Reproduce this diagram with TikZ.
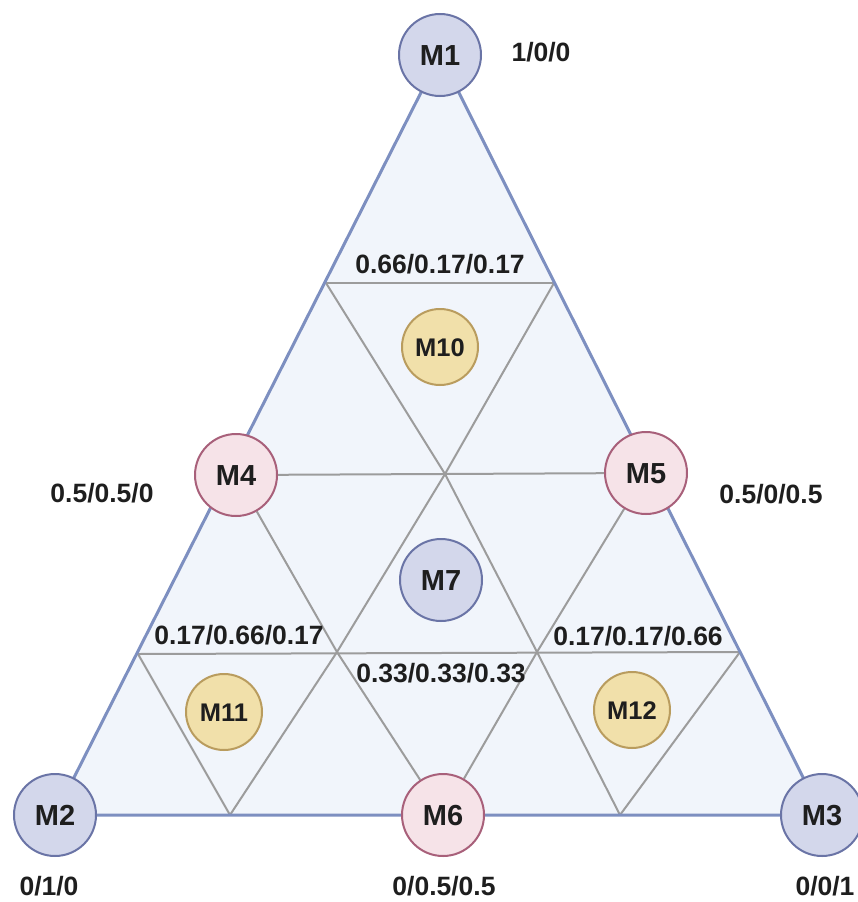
\documentclass[tikz,border=0pt]{standalone}
\usepackage{fontspec}
\setmainfont{Liberation Sans}
\usetikzlibrary{backgrounds}
\definecolor{bluefill}{HTML}{D3D7EB}
\definecolor{blueline}{HTML}{6A74A6}
\definecolor{pinkfill}{HTML}{F6E3E8}
\definecolor{pinkline}{HTML}{A8607A}
\definecolor{yelfill}{HTML}{F1E0AA}
\definecolor{yelline}{HTML}{B99C5E}
\definecolor{trifill}{HTML}{F1F5FB}
\definecolor{triedge}{HTML}{7D8FC0}
\definecolor{gridline}{HTML}{9C9C9C}
\definecolor{txt}{HTML}{1E1E1E}
\begin{document}
\begin{tikzpicture}[x=1pt,y=-1pt,
  bignode/.style={circle, draw, line width=2pt, minimum size=82pt, inner sep=0pt,
    text height=20.5pt, text depth=0pt, text=txt, font=\fontsize{29}{30}\selectfont\bfseries},
  smallnode/.style={circle, draw, line width=2pt, minimum size=76pt, inner sep=0pt,
    text height=18pt, text depth=0pt, text=txt, font=\fontsize{25.5}{27}\selectfont\bfseries},
  bluec/.style={fill=bluefill, draw=blueline},
  pinkc/.style={fill=pinkfill, draw=pinkline},
  yelc/.style={fill=yelfill, draw=yelline},
  lab/.style={inner sep=0pt, text height=19pt, text depth=0pt, text=txt,
    font=\fontsize{26.5}{28}\selectfont\bfseries},
  grid/.style={draw=gridline, line width=2pt},
  edge/.style={draw=triedge, line width=3pt, line join=round}]
\useasboundingbox (0,0) rectangle (858,902);

% circles
\node[bignode,bluec] (M1) at (440,55) {M1};
\node[bignode,bluec] (M2) at (55,815) {M2};
\node[bignode,bluec] (M3) at (822,815) {M3};
\node[bignode,pinkc] (M4) at (236,475) {M4};
\node[bignode,pinkc] (M5) at (646,473) {M5};
\node[bignode,pinkc] (M6) at (443,815) {M6};
\node[bignode,bluec] (M7) at (441,580) {M7};
\node[smallnode,yelc] (M10) at (440,347) {M10};
\node[smallnode,yelc] (M11) at (224,712) {M11};
\node[smallnode,yelc] (M12) at (632,710) {M12};

% grid points
\coordinate (P1) at (326,283);
\coordinate (P2) at (554,283);
\coordinate (Q) at (445,474);
\coordinate (S1) at (337,652);
\coordinate (S2) at (537,652);
\coordinate (R1) at (138,654);
\coordinate (R2) at (740,652);
\coordinate (T1) at (230,815);
\coordinate (T2) at (620,815);

\begin{scope}[on background layer]
  \fill[trifill] (M1.center) -- (M2.center) -- (M3.center) -- cycle;
  \draw[grid] (P1) -- (P2);
  \draw[grid] (P1) -- (Q) -- (S2) -- (T2);
  \draw[grid] (P2) -- (Q) -- (S1) -- (T1);
  \draw[grid] (M4) -- (M5);
  \draw[grid] (M4) -- (S1) -- (M6);
  \draw[grid] (M5) -- (S2) -- (M6);
  \draw[grid] (R1) -- (R2);
  \draw[grid] (R1) -- (T1);
  \draw[grid] (R2) -- (T2);
  \draw[edge] (M1.center) -- (M2.center) -- (M3.center) -- cycle;
\end{scope}

% labels
\node[lab] (L1) at (541,52) {1/0/0};
\node[lab] (L2) at (49,886) {0/1/0};
\node[lab] (L3) at (825,886) {0/0/1};
\node[lab] (L4) at (102,493) {0.5/0.5/0};
\node[lab] (L5) at (771,494) {0.5/0/0.5};
\node[lab] (L6) at (444,886) {0/0.5/0.5};
\node[lab] (L10) at (440,264) {0.66/0.17/0.17};
\node[lab] (L11) at (239,635) {0.17/0.66/0.17};
\node[lab] (L7) at (441,673) {0.33/0.33/0.33};
\node[lab] (L12) at (638,636) {0.17/0.17/0.66};
\end{tikzpicture}
\end{document}
